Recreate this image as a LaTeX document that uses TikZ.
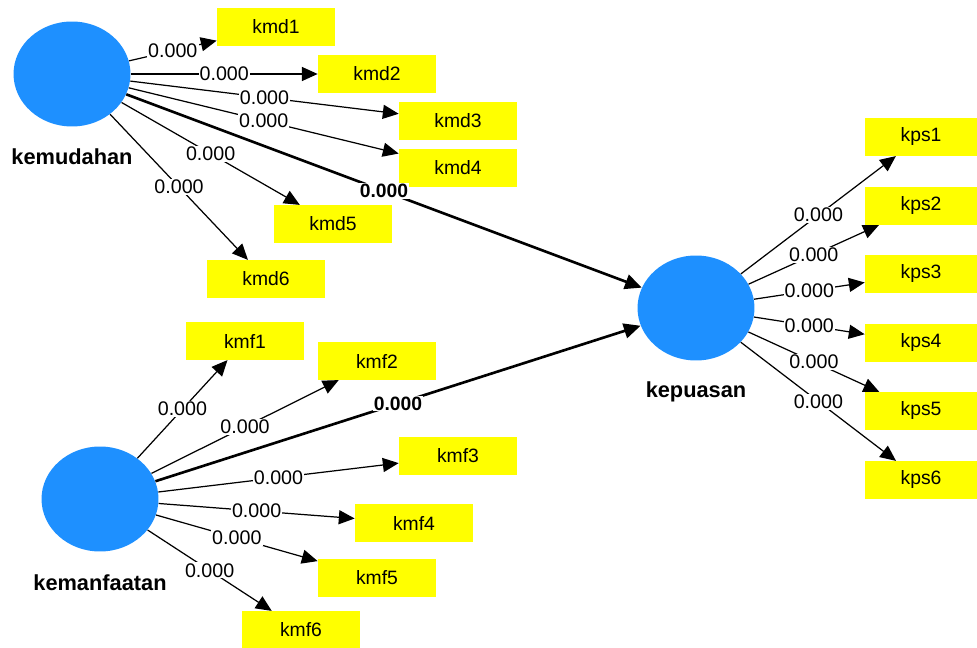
\documentclass[tikz,border=0pt]{standalone}
\usepackage{fontspec}
\setsansfont{Liberation Sans}
\usetikzlibrary{arrows.meta,shapes.geometric}
\definecolor{lvblue}{RGB}{30,144,255}
\definecolor{indyellow}{RGB}{255,255,0}

\begin{document}
\begin{tikzpicture}[x=0.02cm, y=-0.02cm,
  latent/.style={ellipse, fill=lvblue, minimum width=2.34cm, minimum height=2.1cm, inner sep=0pt},
  ind/.style={fill=indyellow, minimum width=#1, minimum height=0.75cm, inner sep=0pt,
              font=\sffamily\fontsize{11}{13}\selectfont},
  ind/.default=2.36cm,
  lvname/.style={font=\sffamily\bfseries\fontsize{12.4}{14}\selectfont},
  load/.style={-{Triangle[length=9pt,width=8pt]}, line width=0.7pt},
  inner/.style={-{Triangle[length=9.5pt,width=8.5pt]}, line width=1.5pt},
  coef/.style={fill=white, inner sep=0.6pt, font=\sffamily\fontsize{11.2}{13}\selectfont},
  coefb/.style={coef, font=\sffamily\bfseries\fontsize{11}{13}\selectfont}
]
\useasboundingbox (0,0) rectangle (977,648);

%% ---- latent variables ----
\node[latent] (kmd) at (72,74)  {};
\node[latent] (kmf) at (100,499) {};
\node[latent] (kps) at (696,308) {};

\node[lvname] (kmdname) at (72,157)  {kemudahan};
\node[lvname] (kmfname) at (100,583) {kemanfaatan};
\node[lvname] (kpsname) at (696,392) {kepuasan};

%% ---- indicators ----
\foreach \n/\x/\y in {1/276/27, 2/377/74, 3/458/121, 4/458/168, 5/333/224, 6/266/279}
  \node[ind] (kmd\n) at (\x,\y) {kmd\n};
\foreach \n/\x/\y in {1/245/341, 2/377/361, 3/458/456, 4/414/523, 5/377/578, 6/301/630}
  \node[ind] (kmf\n) at (\x,\y) {kmf\n};
\foreach \n/\y in {1/137, 2/206, 3/274, 4/343, 5/411, 6/480}
  \node[ind=2.24cm] (kps\n) at (921,\y) {kps\n};

%% ---- outer loadings ----
\foreach \n in {1,...,6}
  \draw[load] (kmd) -- node[coef] {0.000} (kmd\n);
\foreach \n in {1,...,6}
  \draw[load] (kmf) -- node[coef] {0.000} (kmf\n);
\foreach \n in {1,...,6}
  \draw[load] (kps) -- node[coef] {0.000} (kps\n);

%% ---- inner model ----
\draw[inner] (kmd) -- node[coefb] {0.000} (kps);
\draw[inner] (kmf) -- node[coefb] {0.000} (kps);

\end{tikzpicture}
\end{document}
